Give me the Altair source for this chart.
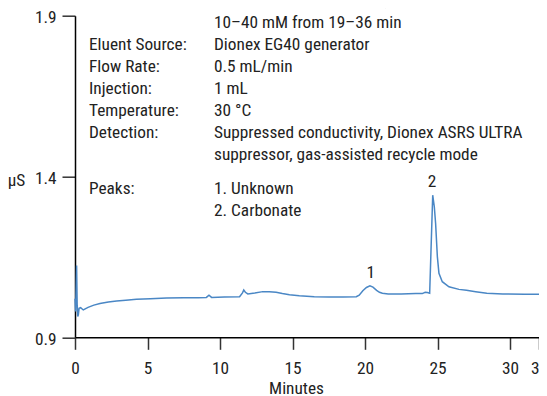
import altair as alt
import pandas as pd

# ---- chromatogram trace ----
minutes = [0.00, 0.04, 0.08, 0.11, 0.15, 0.19, 0.23, 0.28, 0.39, 0.57, 0.90, 1.30, 1.72,
           2.30, 2.87, 3.50, 4.24, 5.20, 6.31, 7.50, 8.50, 9.06, 9.24, 9.42, 10.30,
           11.35, 11.55, 11.64, 11.75, 11.92, 12.40, 12.95, 13.40, 13.87, 14.30, 14.79,
           15.47, 16.50, 17.50, 18.50, 19.40, 19.60, 19.85, 20.10, 20.34, 20.55, 20.80,
           21.00, 21.20, 21.60, 22.50, 23.50, 23.95, 24.15, 24.30, 24.46, 24.67, 24.78,
           24.87, 24.99, 25.10, 25.33, 25.79, 26.48, 27.00, 27.63, 28.40, 29.50, 31.00,
           32.00]
microsiemens = [1.020, 0.980, 1.060, 1.123, 1.000, 0.965, 0.970, 0.990, 0.992, 0.985,
                0.993, 1.000, 1.005, 1.010, 1.013, 1.015, 1.018, 1.020, 1.022, 1.023,
                1.023, 1.024, 1.031, 1.024, 1.025, 1.026, 1.038, 1.047, 1.040, 1.035,
                1.038, 1.042, 1.042, 1.040, 1.036, 1.032, 1.029, 1.026, 1.025, 1.025,
                1.026, 1.031, 1.045, 1.055, 1.060, 1.056, 1.046, 1.040, 1.037, 1.035,
                1.035, 1.036, 1.036, 1.040, 1.039, 1.037, 1.342, 1.306, 1.254, 1.151,
                1.099, 1.073, 1.057, 1.049, 1.046, 1.042, 1.037, 1.035, 1.034, 1.034]

peak_numbers = ["1", "2"]
peak_minutes = [20.40, 24.62]
peak_heights = [1.060, 1.342]

info_labels = ["", "", "Eluent Source:", "Flow Rate:", "Injection:", "Temperature:",
               "Detection:", "", "Peaks:", ""]
info_values = ["1\u201310 mM from 8\u201319 min,", "10\u201340 mM from 19\u201336 min",
               "Dionex EG40 generator", "0.5 mL/min", "1 mL", "30 \u00b0C",
               "Suppressed conductivity, Dionex ASRS ULTRA",
               "suppressor, gas-assisted recycle mode", "1. Unknown", "2. Carbonate"]

x_ticks = [0, 5, 10, 15, 20, 25, 30, 32]
y_ticks = [0.9, 1.4, 1.9]

# ---- layout / style ----
FONT = "Roboto Condensed, Liberation Sans Narrow, Arial Narrow, Roboto, sans-serif"
FS = 17.3
LINE_COLOR = "#4a87c5"
PLOT_W, PLOT_H = 464, 321.6
row_y = [1, 23, 45, 67, 89, 111, 133, 155, 189, 211]  # page px (row centers)
TOP = 15.7
LABEL_X, VALUE_X = 89 - 75, 214 - 75

trace = pd.DataFrame({"minutes": minutes, "us": microsiemens})
peaks = pd.DataFrame({"n": peak_numbers, "t": peak_minutes, "h": peak_heights})
info = pd.DataFrame({"label": info_labels, "value": info_values,
                     "py": [r - TOP for r in row_y]})

xs = alt.Scale(domain=[0, 32], nice=False, zero=False)
ys = alt.Scale(domain=[0.9, 1.9], nice=False, zero=False)

x_axis = alt.Axis(values=x_ticks, title="Minutes", titleX=221, titleY=51,
                  titleAlign="center", titleBaseline="middle",
                  labelPadding=10, tickSize=12, labelOverlap=False, labelFlush=False)

line = alt.Chart(trace).mark_line(color=LINE_COLOR, strokeWidth=1.5).encode(
    x=alt.X("minutes:Q", scale=xs, axis=x_axis),
    y=alt.Y("us:Q", scale=ys,
            axis=alt.Axis(values=y_ticks, format=".1f", title="\u00b5S", titleAngle=0,
                          titleX=-59, titleY=164.3, titleAlign="center",
                          titleBaseline="middle", labelPadding=6, tickSize=13,
                          labelOffset=2, labelOverlap=False, labelFlush=False)),
)

peak_text = alt.Chart(peaks).mark_text(font=FONT, fontSize=FS, color="#222", dy=-13,
                                       baseline="middle", align="center").encode(
    x=alt.X("t:Q", scale=xs, axis=x_axis), y=alt.Y("h:Q", scale=ys, axis=None),
    text="n:N")

lab_text = alt.Chart(info).mark_text(font=FONT, fontSize=FS, color="#222", align="left",
                                     baseline="middle").encode(
    x=alt.value(LABEL_X), y=alt.Y("py:Q", scale=None, axis=None), text="label:N")
val_text = alt.Chart(info).mark_text(font=FONT, fontSize=FS, color="#222", align="left",
                                     baseline="middle").encode(
    x=alt.value(VALUE_X), y=alt.Y("py:Q", scale=None, axis=None), text="value:N")

chart = alt.layer(line, peak_text, lab_text, val_text).resolve_scale(
    y="independent").properties(
    width=PLOT_W, height=PLOT_H,
    padding={"left": 67, "top": 7.7, "right": 0, "bottom": 58.7},
    autosize=alt.AutoSizeParams(type="none"),
).configure_view(stroke=None).configure_axis(
    grid=False, domainColor="#000", domainWidth=1.5, tickColor="#333", tickWidth=1.5,
    labelFont=FONT, labelFontSize=FS, labelColor="#222", titleFont=FONT,
    titleFontSize=FS, titleColor="#222", titleFontWeight="normal",
).configure_text(font=FONT)

chart.save("out.html", embed_options={"renderer": "svg", "actions": False})
